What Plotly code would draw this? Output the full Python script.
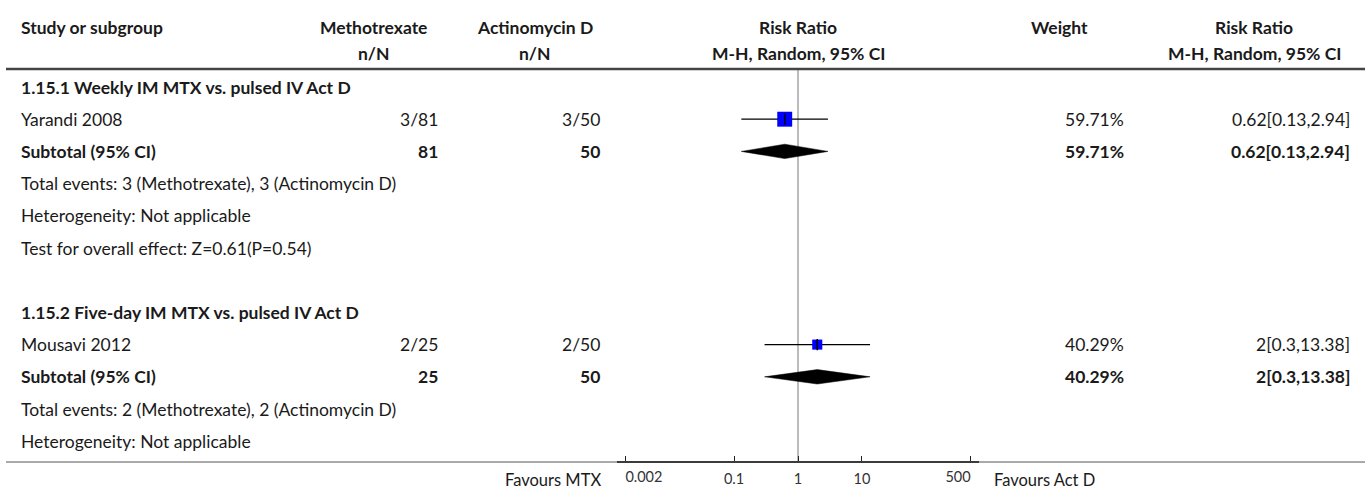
import plotly.graph_objects as go

# ---- data -------------------------------------------------------------
studies = ["Yarandi 2008", "Mousavi 2012"]
subgroup_titles = ["1.15.1 Weekly IM MTX vs. pulsed IV Act D",
                   "1.15.2 Five-day IM MTX vs. pulsed IV Act D"]
mtx_events = [3, 2]
mtx_total = [81, 25]
actd_events = [3, 2]
actd_total = [50, 50]
rr = [0.62, 2]
rr_low = [0.13, 0.3]
rr_high = [2.94, 13.38]
weights = [59.71, 40.29]
heterogeneity = ["Not applicable", "Not applicable"]
overall_effect = ["Z=0.61(P=0.54)", None]
tick_vals = [0.002, 0.1, 1, 10, 500]
tick_text = ["0.002", "0.1", "1", "10", "500"]

# ---- layout constants (pixels) -----------------------------------------
W, H = 1370, 489
FONT = "Lato, 'Open Sans', sans-serif"
TXT = "#1a1a1a"
BODY = 17.5
ROW0, ROW_H = 87, 32.2
AXIS_Y = 462
COL_STUDY = 20
COL_MTX_R, COL_MTX_C = 439, 374
COL_ACT_R, COL_ACT_C = 601, 535
COL_PLOT_C = 798
COL_W_R, COL_W_C = 1125, 1059
COL_RR_R, COL_RR_C = 1351, 1254
PLOT_L, PLOT_R = 617, 979
HALF_DEC = 2.83


def px(x):
    return x / W


def row_y(k):
    return ROW0 + ROW_H * k


annotations = []


def text(x, y, s, anchor="left", bold=False, size=BODY, color=TXT, yref="y"):
    annotations.append(dict(
        x=px(x), xref="paper", y=y, yref=yref, text=f"<b>{s}</b>" if bold else s,
        showarrow=False, xanchor=anchor, yanchor="middle", borderpad=0,
        font=dict(family=FONT, size=size, color=color)))


# column headers
header_x = [COL_STUDY, COL_MTX_C, COL_ACT_C, COL_PLOT_C, COL_W_C, COL_RR_C]
header_anchor = ["left", "center", "center", "center", "center", "center"]
header_rows = [(27, ["Study or subgroup", "Methotrexate", "Actinomycin D",
                     "Risk Ratio", "Weight", "Risk Ratio"]),
               (53, ["", "n/N", "n/N", "M-H, Random, 95% CI", "",
                     "M-H, Random, 95% CI"])]
for y, cells in header_rows:
    for x, s, a in zip(header_x, cells, header_anchor):
        if s:
            text(x, y, s, a, bold=True)

fig = go.Figure()

row = 0
for g in range(len(studies)):
    text(COL_STUDY, row_y(row), subgroup_titles[g], bold=True)

    # individual study: CI whisker, weighted square, centre tick
    ys = row_y(row + 1)
    text(COL_STUDY, ys, studies[g])
    text(COL_MTX_R, ys, f"{mtx_events[g]}/{mtx_total[g]}", "right")
    text(COL_ACT_R, ys, f"{actd_events[g]}/{actd_total[g]}", "right")
    text(COL_W_R, ys, f"{weights[g]:.2f}%", "right")
    text(COL_RR_R, ys, f"{rr[g]:g}[{rr_low[g]:g},{rr_high[g]:g}]", "right")
    fig.add_trace(go.Scatter(x=[rr_low[g], rr_high[g]], y=[ys, ys], mode="lines",
                             line=dict(color="black", width=1.3),
                             hoverinfo="skip"))
    fig.add_trace(go.Scatter(x=[rr[g]], y=[ys], mode="markers",
                             marker=dict(symbol="square", size=weights[g] / 4,
                                         color="#0000ff", line=dict(width=0)),
                             hoverinfo="skip"))
    fig.add_trace(go.Scatter(x=[rr[g]], y=[ys], mode="markers",
                             marker=dict(symbol="line-ns", size=8,
                                         line=dict(color="black", width=1.5)),
                             hoverinfo="skip"))

    # pooled subtotal: diamond spanning the CI
    yt = row_y(row + 2)
    text(COL_STUDY, yt, "Subtotal (95% CI)", bold=True)
    text(COL_MTX_R, yt, f"{mtx_total[g]}", "right", bold=True)
    text(COL_ACT_R, yt, f"{actd_total[g]}", "right", bold=True)
    text(COL_W_R, yt, f"{weights[g]:.2f}%", "right", bold=True)
    text(COL_RR_R, yt, f"{rr[g]:g}[{rr_low[g]:g},{rr_high[g]:g}]", "right", bold=True)
    fig.add_trace(go.Scatter(x=[rr_low[g], rr[g], rr_high[g], rr[g], rr_low[g]],
                             y=[yt, yt - 7.2, yt, yt + 7.2, yt],
                             mode="lines", fill="toself", fillcolor="black",
                             line=dict(color="black", width=0.5),
                             hoverinfo="skip"))

    text(COL_STUDY, row_y(row + 3),
         f"Total events: {mtx_events[g]} (Methotrexate), {actd_events[g]} (Actinomycin D)")
    text(COL_STUDY, row_y(row + 4), f"Heterogeneity: {heterogeneity[g]}")
    if overall_effect[g]:
        text(COL_STUDY, row_y(row + 5), f"Test for overall effect: {overall_effect[g]}")
    row += 7

# favours labels beside the axis
text(602, 1 - 480 / H, "Favours MTX", "right", size=16.5, yref="paper")
text(993, 1 - 480 / H, "Favours Act D", "left", size=16.5, yref="paper")

shapes = [
    dict(type="line", xref="paper", yref="y", x0=px(6), x1=px(1365), y0=69, y1=69,
         line=dict(color="#444444", width=2.5)),
    dict(type="line", xref="paper", yref="y", x0=px(6), x1=px(1365),
         y0=AXIS_Y, y1=AXIS_Y, line=dict(color="#555555", width=1)),
    dict(type="line", xref="x", yref="y", x0=1, x1=1, y0=69, y1=AXIS_Y,
         line=dict(color="#a6a6a6", width=1.5), layer="below"),
]

tick_font = dict(family=FONT, size=14.5, color="#333333")
axis_common = dict(type="log", range=[-HALF_DEC, HALF_DEC],
                   domain=[px(PLOT_L), px(PLOT_R)], anchor="free",
                   position=1 - AXIS_Y / H, showgrid=False, zeroline=False,
                   fixedrange=True, tickfont=tick_font)
inner = list(range(1, len(tick_vals) - 1))

fig.update_layout(
    width=W, height=H, margin=dict(l=0, r=0, t=0, b=0),
    paper_bgcolor="white", plot_bgcolor="white", showlegend=False,
    annotations=annotations, shapes=shapes,
    # main scale: line, all ticks, centred labels for the inner ticks
    xaxis=dict(**axis_common, showline=True, linecolor="#222222", linewidth=2,
               ticks="inside", ticklen=5, tickwidth=1, tickcolor="#222222",
               ticklabelstandoff=4, tickvals=tick_vals,
               ticktext=[t if i in inner else "" for i, t in enumerate(tick_text)]),
    # end labels kept inside the axis span
    xaxis2=dict(**axis_common, overlaying="x", showline=False, ticks="",
                ticklabelstandoff=4, tickvals=tick_vals[:1], ticktext=tick_text[:1],
                ticklabelposition="outside right"),
    xaxis3=dict(**axis_common, overlaying="x", showline=False, ticks="",
                ticklabelstandoff=4, tickvals=tick_vals[-1:], ticktext=tick_text[-1:],
                ticklabelposition="outside left"),
    yaxis=dict(range=[H, 0], domain=[0, 1], visible=False, showgrid=False,
               zeroline=False, fixedrange=True),
)
# invisible anchors so the overlay axes are drawn
for ax in ("x2", "x3"):
    fig.add_trace(go.Scatter(x=[1], y=[-10], xaxis=ax, yaxis="y", mode="markers",
                             marker=dict(opacity=0), hoverinfo="skip"))

fig.write_html("out.html")
